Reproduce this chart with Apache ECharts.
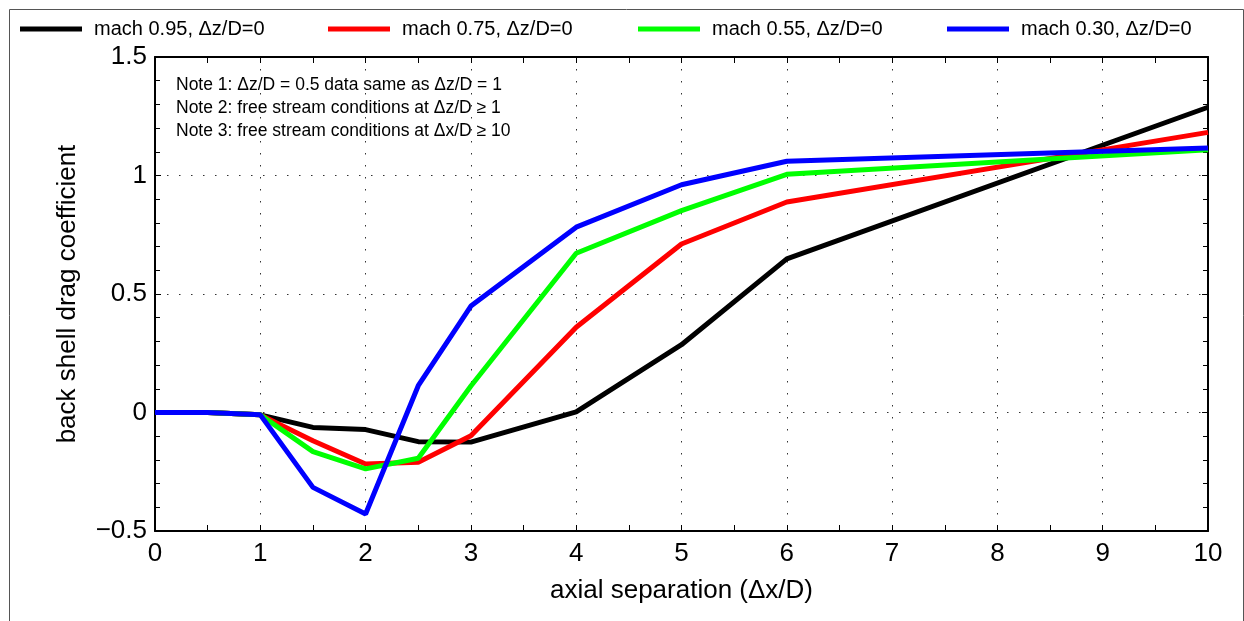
<!DOCTYPE html>
<html>
<head>
<meta charset="utf-8">
<title>back shell drag coefficient</title>
<script src="https://cdn.jsdelivr.net/npm/echarts@6/dist/echarts.min.js"></script>
<style>
  html, body { margin: 0; padding: 0; background: #fff; }
  #chart { width: 1244px; height: 621px; }
</style>
</head>
<body>
<div id="chart"></div>
<script>
// axial separation (Δx/D) where the curves were sampled
const separation = [0, 0.5, 1, 1.5, 2, 2.5, 3, 4, 5, 6, 10]

// back shell drag coefficient, one array per mach number
const mach095 = [0, 0, -0.01, -0.063, -0.072, -0.123, -0.125, 0.003, 0.286, 0.648, 1.288]
const mach075 = [0, 0, -0.01, -0.119, -0.217, -0.21, -0.098, 0.36, 0.711, 0.888, 1.182]
const mach055 = [0, 0, -0.01, -0.165, -0.238, -0.193, 0.112, 0.672, 0.852, 1.005, 1.109]
const mach030 = [0, 0, -0.01, -0.316, -0.428, 0.113, 0.449, 0.782, 0.961, 1.06, 1.116]

const seriesNames = ['mach 0.95, Δz/D=0', 'mach 0.75, Δz/D=0', 'mach 0.55, Δz/D=0', 'mach 0.30, Δz/D=0']
const seriesColors = ['#000000', '#ff0000', '#00ff00', '#0000ff']
const seriesValues = [mach095, mach075, mach055, mach030]

const notes = [
  'Note 1: Δz/D = 0.5 data same as Δz/D = 1',
  'Note 2: free stream conditions at Δz/D ≥ 1',
  'Note 3: free stream conditions at Δx/D ≥ 10'
]

const FONT = 'Liberation Sans, Arial, Helvetica, sans-serif'
const legendLeft = [15, 323, 633, 942]

// 坐标轴公共样式
const axisLineStyle = { show: true, onZero: false, lineStyle: { color: '#000', width: 2 } }
const tickStyle = { show: true, inside: true, length: 6, lineStyle: { color: '#000', width: 1 } }
const gridDots = { show: true, lineStyle: { color: '#333', width: 1, type: [1.5, 10.5] } }

const chart = echarts.init(document.getElementById('chart'))

const option = {
  backgroundColor: '#fff',
  animation: false,
  grid: { left: 155, right: 36, top: 57, bottom: 90, containLabel: false },
  // one legend per series so each can sit at its own column
  legend: seriesNames.map((name, i) => ({
    data: [name],
    left: legendLeft[i],
    top: 14,
    icon: 'rect',
    itemWidth: 62,
    itemHeight: 5,
    selectedMode: false,
    textStyle: { fontFamily: FONT, fontSize: 20, color: '#000', padding: [0, 0, 0, 7] }
  })),
  xAxis: [
    {
      type: 'value',
      min: 0,
      max: 10,
      interval: 1,
      position: 'bottom',
      name: 'axial separation (Δx/D)',
      nameLocation: 'middle',
      nameGap: 47,
      nameTextStyle: { fontFamily: FONT, fontSize: 26, color: '#000' },
      axisLine: axisLineStyle,
      axisTick: tickStyle,
      minorTick: { show: true, splitNumber: 2, length: 6, lineStyle: { color: '#000', width: 1 } },
      axisLabel: { fontFamily: FONT, fontSize: 26, color: '#000', margin: 10 },
      splitLine: gridDots
    },
    {
      type: 'value',
      min: 0,
      max: 10,
      interval: 1,
      position: 'top',
      axisLine: axisLineStyle,
      axisTick: tickStyle,
      minorTick: { show: true, splitNumber: 2, length: 6, lineStyle: { color: '#000', width: 1 } },
      axisLabel: { show: false },
      splitLine: { show: false }
    }
  ],
  yAxis: [
    {
      type: 'value',
      min: -0.5,
      max: 1.5,
      interval: 0.5,
      position: 'left',
      name: 'back shell drag coefficient',
      nameLocation: 'middle',
      nameGap: 74,
      nameTextStyle: { fontFamily: FONT, fontSize: 26, color: '#000' },
      axisLine: axisLineStyle,
      axisTick: tickStyle,
      minorTick: { show: true, splitNumber: 5, length: 5, lineStyle: { color: '#000', width: 1 } },
      axisLabel: {
        fontFamily: FONT,
        fontSize: 26,
        color: '#000',
        margin: 8,
        formatter: v => (v < 0 ? '−' + Math.abs(v) : String(v))
      },
      splitLine: gridDots
    },
    {
      type: 'value',
      min: -0.5,
      max: 1.5,
      interval: 0.5,
      position: 'right',
      axisLine: axisLineStyle,
      axisTick: tickStyle,
      minorTick: { show: true, splitNumber: 5, length: 5, lineStyle: { color: '#000', width: 1 } },
      axisLabel: { show: false },
      splitLine: { show: false }
    }
  ],
  // 注释文字 + 外框
  graphic: [
    {
      type: 'rect',
      left: 7,
      top: 7,
      shape: { width: 1234, height: 640 },
      style: { fill: 'none', stroke: '#555', lineWidth: 1 },
      silent: true
    },
    ...notes.map((t, i) => ({
      type: 'text',
      left: 176,
      top: 76 + i * 23,
      style: { text: t, fontFamily: FONT, fontSize: 17.5, fill: '#000' },
      silent: true
    }))
  ],
  series: seriesNames.map((name, i) => ({
    name: name,
    type: 'line',
    xAxisIndex: 0,
    yAxisIndex: 0,
    showSymbol: false,
    symbol: 'none',
    color: seriesColors[i],
    lineStyle: { width: 5, color: seriesColors[i] },
    data: separation.map((x, k) => [x, seriesValues[i][k]])
  }))
}

chart.setOption(option)
</script>
</body>
</html>
